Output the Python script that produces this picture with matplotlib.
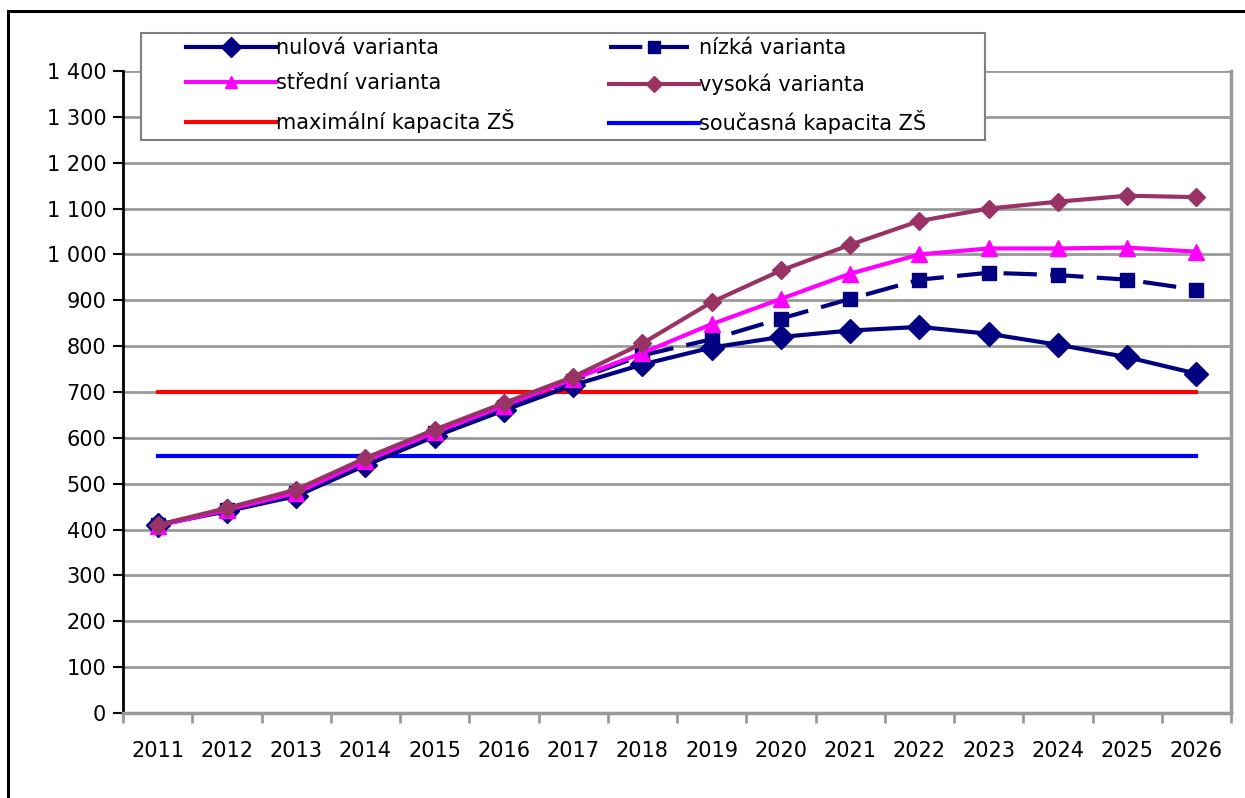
import matplotlib
matplotlib.use("Agg")
import matplotlib.pyplot as plt
from matplotlib.patches import Rectangle
import numpy as np

years = ["2011", "2012", "2013", "2014", "2015", "2016", "2017", "2018",
         "2019", "2020", "2021", "2022", "2023", "2024", "2025", "2026"]
nulova = [410, 440, 473, 540, 603, 660, 715, 760, 797, 820, 834, 842, 827, 803, 776, 740]
nizka = [410, 443, 480, 550, 610, 668, 725, 780, 815, 860, 903, 945, 960, 955, 945, 923]
stredni = [408, 443, 480, 550, 612, 670, 728, 785, 848, 903, 958, 1000, 1013, 1013, 1015, 1006]
vysoka = [410, 447, 487, 556, 618, 676, 733, 806, 896, 965, 1021, 1073, 1100, 1115, 1128, 1125]
max_kap = [700] * 16
soucasna_kap = [560] * 16
y_ticks = [0, 100, 200, 300, 400, 500, 600, 700, 800, 900, 1000, 1100, 1200, 1300, 1400]
y_labels = ["0", "100", "200", "300", "400", "500", "600", "700", "800", "900",
            "1 000", "1 100", "1 200", "1 300", "1 400"]

plt.rcParams['font.family'] = ['DejaVu Sans']

W, H = 1245, 798
fig = plt.figure(figsize=(W / 100, H / 100), dpi=100)
ax = fig.add_axes([123 / W, 1 - 713 / H, (1231 - 123) / W, (713 - 71) / H])

x = np.arange(len(years))
navy = "#000080"
lw = 3.0
fs = 15

l_max, = ax.plot(x, max_kap, color="#ff0000", lw=lw, zorder=2, label="maximální kapacita ZŠ")
l_cur, = ax.plot(x, soucasna_kap, color="#0000ff", lw=lw, zorder=2, label="současná kapacita ZŠ")
l_nul, = ax.plot(x, nulova, color=navy, lw=lw, marker="D", ms=12, zorder=3, label="nulová varianta")
l_niz, = ax.plot(x, nizka, color=navy, lw=lw, marker="s", ms=10.5, dashes=(8, 3.2), zorder=4, label="nízká varianta")
l_str, = ax.plot(x, stredni, color="#ff00ff", lw=lw, marker="^", ms=11, zorder=5, label="střední varianta")
l_vys, = ax.plot(x, vysoka, color="#993366", lw=lw, marker="D", ms=9.5, zorder=6, label="vysoká varianta")

ax.set_xlim(-0.5, len(years) - 0.5)
ax.set_ylim(0, 1400)
ax.set_yticks(y_ticks)
ax.set_yticklabels(y_labels, fontsize=fs)
ax.set_xticks(x)
ax.set_xticklabels(years, fontsize=fs)
ax.set_xticks(np.arange(-0.5, len(years)), minor=True)
ax.tick_params(axis="x", which="major", length=0, pad=20)
ax.tick_params(axis="x", which="minor", length=7, width=2, color="#999999", direction="out")
ax.tick_params(axis="y", length=7, width=1.5, color="black", pad=5)

ax.yaxis.grid(True, color="#999999", lw=2)
ax.set_axisbelow(True)
ax.spines["top"].set_visible(False)
ax.spines["left"].set_color("black")
ax.spines["left"].set_linewidth(2)
ax.spines["bottom"].set_color("#999999")
ax.spines["bottom"].set_linewidth(2.5)
ax.spines["right"].set_color("#999999")
ax.spines["right"].set_linewidth(2.5)

# legend frame
fig.patches.append(Rectangle((141 / W, 1 - 140 / H), (985 - 141) / W, (140 - 33) / H,
                             transform=fig.transFigure, facecolor="white",
                             edgecolor="#808080", lw=1.5, zorder=10))

common = dict(loc="upper left", fontsize=fs, frameon=False, handlelength=4.3,
              handletextpad=0.0, borderaxespad=0, borderpad=0, labelspacing=0.74,
              markerscale=0.85)
col1 = [l_nul, l_str, l_max]
col2 = [l_niz, l_vys, l_cur]
leg1 = fig.legend(handles=col1, labels=[h.get_label() for h in col1],
                  bbox_to_anchor=(186 / W, 1 - 38 / H), **common)
leg2 = fig.legend(handles=col2, labels=[h.get_label() for h in col2],
                  bbox_to_anchor=(609 / W, 1 - 38 / H), **common)
leg1.set_zorder(11)
leg2.set_zorder(11)

fig.patches.append(Rectangle((8 / W, -0.05), 1.2, 1 - 11 / H + 0.05, transform=fig.transFigure,
                             fill=False, edgecolor="black", lw=2.2))

fig.savefig("out.png", dpi=100)
